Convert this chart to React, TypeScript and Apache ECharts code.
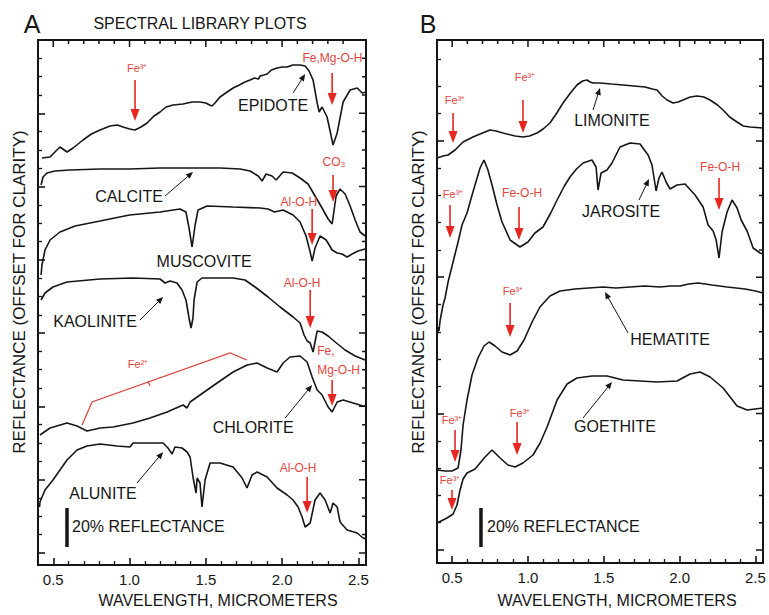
import React, { useEffect, useRef } from "react";
import * as echarts from "echarts";

type Pt = [number, number];

// x: wavelength (micrometers); y: reflectance, offset for clarity (plot units, 39 units = 20 % reflectance)
const EPIDOTE: Pt[] = [[0.426,407],[0.479,408],[0.511,413],[0.544,418],[0.59,413],[0.63,417],[0.695,425],[0.75,431],[0.807,435],[0.872,439],[0.92,440],[0.957,438],[1.0,436],[1.036,435],[1.075,438],[1.115,442],[1.16,449],[1.2,453],[1.24,458],[1.285,460],[1.35,461],[1.41,463],[1.462,463],[1.5,462],[1.525,460],[1.541,459],[1.56,462],[1.593,468],[1.64,473],[1.679,477],[1.72,480],[1.757,483],[1.79,485],[1.82,487],[1.845,486],[1.856,489],[1.88,490],[1.902,491],[1.93,495],[1.967,497],[2.0,498],[2.033,498],[2.07,500],[2.118,500],[2.151,499],[2.177,494],[2.203,485],[2.23,462],[2.243,453],[2.262,458],[2.295,448],[2.334,420],[2.361,432],[2.4,463],[2.446,475],[2.492,477],[2.525,472],[2.551,473]];
const CALCITE: Pt[] = [[0.42,380],[0.433,388],[0.459,392],[0.511,394],[0.61,395],[0.807,396],[1.0,396],[1.2,397],[1.397,397],[1.593,397],[1.725,396],[1.79,394],[1.843,389],[1.869,384],[1.895,391],[1.934,389],[1.961,385],[2.007,393],[2.066,392],[2.118,387],[2.17,381],[2.216,369],[2.262,357],[2.302,346],[2.328,341],[2.354,369],[2.38,376],[2.413,371],[2.446,359],[2.479,345],[2.511,333],[2.544,329]];
const MUSCOVITE: Pt[] = [[0.42,290],[0.426,300],[0.446,315],[0.479,325],[0.544,333],[0.643,339],[0.807,344],[1.0,350],[1.2,353],[1.331,356],[1.37,353],[1.39,337],[1.41,318],[1.43,340],[1.449,355],[1.508,359],[1.679,358],[1.856,357],[1.908,356],[1.95,353],[2.007,355],[2.072,350],[2.118,343],[2.157,329],[2.184,313],[2.197,304],[2.216,317],[2.249,329],[2.289,325],[2.328,315],[2.361,312],[2.393,311],[2.426,308],[2.459,311],[2.498,314],[2.544,316]];
const KAOLINITE: Pt[] = [[0.42,265],[0.446,272],[0.498,278],[0.59,283],[0.807,286],[1.023,287],[1.2,286],[1.233,282],[1.266,284],[1.311,282],[1.344,275],[1.37,265],[1.39,247],[1.403,237],[1.416,247],[1.423,265],[1.443,283],[1.475,287],[1.679,287],[1.757,285],[1.823,278],[1.908,268],[1.987,258],[2.072,248],[2.118,242],[2.144,230],[2.164,224],[2.184,222],[2.203,213],[2.23,234],[2.262,233],[2.302,229],[2.348,223],[2.413,215],[2.479,209],[2.544,205]];
const CHLORITE: Pt[] = [[0.413,130],[0.479,137],[0.59,142],[0.656,139],[0.721,134],[0.807,137],[0.892,138],[1.023,142],[1.134,147],[1.246,153],[1.351,160],[1.377,157],[1.397,163],[1.462,170],[1.574,182],[1.679,193],[1.771,200],[1.836,202],[1.902,197],[1.967,193],[2.007,202],[2.052,208],[2.118,209],[2.164,203],[2.197,188],[2.23,175],[2.262,170],[2.302,158],[2.328,153],[2.361,163],[2.4,165],[2.466,162],[2.531,159],[2.55,159]];
const ALUNITE: Pt[] = [[0.41,58],[0.413,63],[0.446,75],[0.498,85],[0.59,105],[0.656,115],[0.721,119],[0.807,121],[0.918,119],[1.003,118],[1.023,122],[1.134,122],[1.22,122],[1.252,117],[1.279,111],[1.298,118],[1.344,117],[1.377,113],[1.397,108],[1.416,88],[1.436,72],[1.443,87],[1.462,82],[1.475,58],[1.495,85],[1.528,102],[1.593,102],[1.679,98],[1.738,87],[1.77,77],[1.803,90],[1.836,93],[1.902,88],[1.967,77],[2.033,70],[2.072,65],[2.105,58],[2.131,48],[2.151,38],[2.184,42],[2.216,65],[2.249,72],[2.282,65],[2.315,52],[2.334,62],[2.361,58],[2.38,43],[2.426,35],[2.492,32],[2.531,27],[2.55,26]];

const LIMONITE: Pt[] = [[0.4,405],[0.44,407],[0.473,408],[0.519,413],[0.572,421],[0.637,426],[0.7,430],[0.75,433],[0.79,432],[0.835,430],[0.915,427],[0.967,426],[1.01,427],[1.06,430],[1.1,434],[1.145,440],[1.19,450],[1.231,460],[1.28,470],[1.323,478],[1.36,482],[1.389,483],[1.41,481],[1.429,480],[1.475,480],[1.55,479],[1.627,478],[1.7,477],[1.772,476],[1.82,474],[1.851,473],[1.885,467],[1.917,463],[1.957,460],[1.99,461],[2.023,463],[2.07,466],[2.115,467],[2.16,466],[2.201,463],[2.25,458],[2.287,453],[2.33,446],[2.379,441],[2.42,437],[2.465,436],[2.55,435]];
const JAROSITE: Pt[] = [[0.402,228],[0.408,236],[0.413,232],[0.42,242],[0.426,247],[0.44,258],[0.453,265],[0.473,281],[0.506,301],[0.539,321],[0.565,338],[0.598,350],[0.637,371],[0.684,395],[0.71,403],[0.736,393],[0.763,378],[0.796,358],[0.829,341],[0.882,323],[0.947,316],[1.0,321],[1.046,330],[1.099,336],[1.15,350],[1.192,363],[1.24,377],[1.277,386],[1.32,394],[1.363,400],[1.422,403],[1.449,396],[1.462,373],[1.482,390],[1.521,393],[1.554,400],[1.607,416],[1.673,420],[1.739,419],[1.792,408],[1.818,398],[1.845,372],[1.864,385],[1.884,391],[1.911,381],[1.937,374],[1.983,378],[2.036,379],[2.102,368],[2.155,356],[2.188,338],[2.221,332],[2.241,323],[2.26,305],[2.28,331],[2.313,351],[2.346,363],[2.379,355],[2.406,343],[2.445,332],[2.485,315],[2.531,310],[2.55,309]];
const HEMATITE: Pt[] = [[0.4,93],[0.453,92],[0.499,92],[0.539,95],[0.558,113],[0.572,138],[0.598,163],[0.631,188],[0.67,205],[0.71,217],[0.743,221],[0.783,217],[0.829,211],[0.882,208],[0.928,212],[0.974,223],[1.027,241],[1.079,256],[1.145,267],[1.211,272],[1.31,274],[1.4,275],[1.495,276],[1.58,275],[1.673,276],[1.77,277],[1.871,276],[1.94,277],[2.003,277],[2.06,279],[2.122,280],[2.214,278],[2.313,276],[2.432,274],[2.5,272],[2.55,270]];
const GOETHITE: Pt[] = [[0.4,40],[0.466,45],[0.506,49],[0.532,58],[0.552,73],[0.572,84],[0.598,90],[0.651,94],[0.717,106],[0.763,113],[0.816,105],[0.868,98],[0.915,96],[0.967,100],[1.033,108],[1.08,120],[1.126,136],[1.192,163],[1.258,179],[1.323,185],[1.422,187],[1.521,187],[1.627,183],[1.739,182],[1.851,181],[1.983,182],[2.069,189],[2.135,191],[2.201,186],[2.287,175],[2.379,157],[2.445,153],[2.55,155]];

const PANEL_A: Pt[][] = [EPIDOTE, CALCITE, MUSCOVITE, KAOLINITE, CHLORITE, ALUNITE];
const PANEL_B: Pt[][] = [LIMONITE, JAROSITE, HEMATITE, GOETHITE];
const NAMES_A = ["Epidote", "Calcite", "Muscovite", "Kaolinite", "Chlorite", "Alunite"];
const NAMES_B = ["Limonite", "Jarosite", "Hematite", "Goethite"];

const X_MIN = 0.4;
const X_MAX = 2.55;
const X_MINOR_STEP = 0.1;
const X_TICK_VALUES = [0.5, 1.0, 1.5, 2.0, 2.5];
const X_TICK_LABELS = ["0.5", "1.0", "1.5", "2.0", "2.5"];
// y tick scales (arbitrary offset units)
const Y_TICKS_A = { min: -0.33, max: 14, split: 7, minorSplit: 4, major: 2, minor: 0.5 };
const Y_TICKS_B = { min: -0.48, max: 18.7, split: 4, minorSplit: 5, major: 5, minor: 1 };

type Feature = { text: string; at: Pt; from: Pt; to: Pt; size?: number; left?: boolean };
type Mineral = { text: string; at: Pt; from?: Pt; to?: Pt };

const FEATURES_A: Feature[] = [
  { text: "Fe³⁺", at: [1.05, 497], from: [1.036, 485], to: [1.036, 444], size: 11 },
  { text: "Fe,Mg-O-H", at: [2.33, 507], from: [2.328, 492], to: [2.328, 460] },
  { text: "CO₃", at: [2.34, 403], from: [2.334, 390], to: [2.334, 363] },
  { text: "Al-O-H", at: [2.11, 363], from: [2.197, 356], to: [2.197, 320] },
  { text: "Al-O-H", at: [2.131, 282], from: [2.184, 275], to: [2.184, 237] },
  { text: "Fe,\nMg-O-H", at: [2.23, 205], from: [2.328, 185], to: [2.328, 159], left: true },
  { text: "Al-O-H", at: [2.105, 97], from: [2.164, 88], to: [2.164, 52] },
];
const FEATURES_B: Feature[] = [
  { text: "Fe³⁺", at: [0.519, 463], from: [0.506, 450], to: [0.506, 420], size: 11 },
  { text: "Fe³⁺", at: [0.98, 486], from: [0.967, 463], to: [0.967, 430], size: 11 },
  { text: "Fe³⁺", at: [0.506, 369], from: [0.486, 358], to: [0.486, 325], size: 11 },
  { text: "Fe-O-H", at: [0.961, 370], from: [0.941, 356], to: [0.941, 323] },
  { text: "Fe-O-H", at: [2.267, 396], from: [2.26, 385], to: [2.26, 353] },
  { text: "Fe³⁺", at: [0.901, 272], from: [0.882, 260], to: [0.882, 226], size: 11 },
  { text: "Fe³⁺", at: [0.499, 143], from: [0.519, 133], to: [0.519, 101], size: 11 },
  { text: "Fe³⁺", at: [0.948, 150], from: [0.928, 141], to: [0.928, 108], size: 11 },
  { text: "Fe³⁺", at: [0.486, 83], from: [0.499, 73], to: [0.499, 53], size: 11 },
];
const MINERALS_A: Mineral[] = [
  { text: "EPIDOTE", at: [1.941, 460], from: [2.072, 472], to: [2.151, 491] },
  { text: "CALCITE", at: [0.997, 369], from: [1.233, 369], to: [1.416, 393] },
  { text: "MUSCOVITE", at: [1.489, 304] },
  { text: "KAOLINITE", at: [0.774, 244], from: [1.069, 245], to: [1.22, 268] },
  { text: "CHLORITE", at: [1.81, 138], from: [2.02, 147], to: [2.197, 180] },
  { text: "ALUNITE", at: [0.826, 72], from: [1.049, 82], to: [1.22, 113] },
];
const MINERALS_B: Mineral[] = [
  { text: "LIMONITE", at: [1.554, 443], from: [1.429, 453], to: [1.475, 475] },
  { text: "JAROSITE", at: [1.614, 352], from: [1.732, 363], to: [1.798, 384] },
  { text: "HEMATITE", at: [1.937, 224], from: [1.66, 230], to: [1.508, 271] },
  { text: "GOETHITE", at: [1.574, 137], from: [1.363, 145], to: [1.554, 181] },
];
const FE2_BRACKET: Pt[] = [[0.689, 140], [0.754, 163], [1.659, 212], [1.77, 205]];
const FE2_TICK: Pt[] = [[1.121, 184], [1.134, 179]];
const FE2_LABEL: Pt = [1.056, 201];
const SCALE_A = { bar: [[0.59, 18], [0.59, 57]] as Pt[], label: [0.623, 39] as Pt };
const SCALE_B = { bar: [[0.69, 16], [0.69, 55]] as Pt[], label: [0.73, 37] as Pt };

const FONT = "Liberation Sans, Arial, Helvetica, sans-serif";
const INK = "#161616";
const RED_LINE = "#e6261f";
const RED_TEXT = "#e2463f";

const FRAME_A = { left: 38, top: 40, width: 328, height: 525 };
const FRAME_B = { left: 437, top: 40, width: 326, height: 523 };
const TICK_MAJOR = 7;
const TICK_MINOR = 4;

const edgeLine = { show: true, onZero: false, lineStyle: { color: INK, width: 2 } };
const majorTick = { show: true, inside: true, length: TICK_MAJOR, lineStyle: { color: INK, width: 1.6 } };
const minorTick = (n: number) => ({ show: true, splitNumber: n, length: TICK_MINOR, lineStyle: { color: INK, width: 1.3 } });

function xAxisDef(gridIndex: number, labels: boolean) {
  return {
    type: "value", gridIndex, position: "bottom", min: X_MIN, max: X_MAX, splitNumber: 4,
    axisLine: edgeLine,
    axisTick: majorTick,
    minorTick: minorTick(5),
    splitLine: { show: false },
    axisLabel: labels
      ? {
          show: true, margin: 7, color: INK, fontSize: 15, fontFamily: FONT,
          formatter: (v: number) => {
            const i = X_TICK_VALUES.findIndex((t) => Math.abs(t - v) < 1e-6);
            return i >= 0 ? X_TICK_LABELS[i] : "";
          },
        }
      : { show: false },
  };
}
function yTickAxis(gridIndex: number, t: typeof Y_TICKS_A) {
  return {
    type: "value", gridIndex, position: "left", min: t.min, max: t.max, splitNumber: t.split,
    axisLine: edgeLine,
    axisTick: majorTick,
    minorTick: minorTick(t.minorSplit),
    axisLabel: { show: false },
    splitLine: { show: false },
  };
}
const dataY = (gridIndex: number, max: number) => ({
  type: "value", gridIndex, position: "left", min: 0, max,
  axisLine: { show: false }, axisTick: { show: false }, axisLabel: { show: false }, splitLine: { show: false },
});

// top / right frame edges and their inward ticks, expressed in the panel's data units
function frameEdges(H: number): any[] {
  return [[X_MIN, H], [X_MAX, H], [X_MAX, 0]];
}
function frameTicks(H: number, widthPx: number, t: typeof Y_TICKS_A): any[] {
  const pts: any[] = [];
  const n = Math.round((X_MAX - X_MIN) / X_MINOR_STEP);
  for (let k = 1; k < n; k++) {
    const v = Math.round((X_MIN + k * X_MINOR_STEP) * 10) / 10;
    const major = X_TICK_VALUES.some((m) => Math.abs(m - v) < 1e-6);
    pts.push([v, H], [v, H - (major ? TICK_MAJOR : TICK_MINOR) * (H / H)], [v, "-"]);
  }
  const xPerPx = (X_MAX - X_MIN) / widthPx;
  const yPerUnit = H / (t.max - t.min);
  const start = Math.ceil((t.min + 1e-9) / t.minor) * t.minor;
  for (let v = start; v < t.max - 1e-9; v += t.minor) {
    const vv = Math.round(v * 1000) / 1000;
    const y = (vv - t.min) * yPerUnit;
    const major = Math.abs(vv / t.major - Math.round(vv / t.major)) < 1e-6;
    pts.push([X_MAX, y], [X_MAX - (major ? TICK_MAJOR : TICK_MINOR) * xPerPx, y], [X_MAX, "-"]);
  }
  return pts;
}

function buildOption() {
  const lineSeries = (data: Pt[], name: string, xi: number, yi: number) => ({
    type: "line", name, data, xAxisIndex: xi, yAxisIndex: yi,
    showSymbol: false, symbol: "none", silent: true,
    lineStyle: { color: INK, width: 1.6 }, z: 3,
  });
  const frameSeries = (data: any[], name: string, xi: number, yi: number, width: number) => ({
    type: "line", name, data, xAxisIndex: xi, yAxisIndex: yi,
    showSymbol: false, symbol: "none", silent: true, clip: false, connectNulls: false,
    lineStyle: { color: INK, width, cap: "butt" }, z: 20,
  });
  const g = (r: any) => ({ ...r, show: true, borderColor: INK, borderWidth: 2 });
  return {
    animation: false,
    grid: [g(FRAME_A), g(FRAME_B)],
    xAxis: [xAxisDef(0, true), xAxisDef(1, true)],
    yAxis: [
      dataY(0, FRAME_A.height), // 0
      yTickAxis(0, Y_TICKS_A), // 1
      dataY(1, FRAME_B.height), // 2
      yTickAxis(1, Y_TICKS_B), // 3
    ],
    series: [
      ...PANEL_A.map((d, i) => lineSeries(d, NAMES_A[i], 0, 0)),
      ...PANEL_B.map((d, i) => lineSeries(d, NAMES_B[i], 1, 2)),
      frameSeries(frameEdges(FRAME_A.height), "frameA", 0, 0, 2),
      frameSeries(frameTicks(FRAME_A.height, FRAME_A.width, Y_TICKS_A), "ticksA", 0, 0, 1.5),
      frameSeries(frameEdges(FRAME_B.height), "frameB", 1, 2, 2),
      frameSeries(frameTicks(FRAME_B.height, FRAME_B.width, Y_TICKS_B), "ticksB", 1, 2, 1.5),
    ],
  };
}

function text(x: number, y: number, s: string, size: number, color: string, align = "center", extra: any = {}) {
  return {
    type: "text", x, y, silent: true, z: 10, ...extra,
    style: {
      text: s, fill: color, fontSize: size, fontFamily: FONT,
      textAlign: align, align, textVerticalAlign: "middle", verticalAlign: "middle",
    },
  };
}
const seg = (x1: number, y1: number, x2: number, y2: number, stroke: string, lineWidth: number) => ({
  type: "line", silent: true, z: 10, shape: { x1, y1, x2, y2 }, style: { stroke, lineWidth },
});
function arrow(p0: number[], p1: number[], color: string, lw: number, hl: number, hw: number) {
  const dx = p1[0] - p0[0], dy = p1[1] - p0[1];
  const len = Math.hypot(dx, dy) || 1;
  const ux = dx / len, uy = dy / len;
  const bx = p1[0] - ux * hl, by = p1[1] - uy * hl;
  const nx = -uy, ny = ux;
  return [
    seg(p0[0], p0[1], bx + ux, by + uy, color, lw),
    { type: "polygon", silent: true, z: 10, shape: { points: [[p1[0], p1[1]], [bx + nx * hw, by + ny * hw], [bx - nx * hw, by - ny * hw]] }, style: { fill: color } },
  ];
}

function panelGraphics(px: (p: Pt) => number[], features: Feature[], minerals: Mineral[], scale: { bar: Pt[]; label: Pt }) {
  const out: any[] = [];
  features.forEach((f) => {
    const a = px(f.at);
    if (f.left) {
      const lines = f.text.split("\n");
      lines.forEach((ln, i) => out.push(text(a[0], a[1] + (i - (lines.length - 1) / 2) * 19, ln, 12, RED_TEXT, "left")));
    } else {
      out.push(text(a[0], a[1], f.text, f.size || 12, RED_TEXT));
    }
    out.push(...arrow(px(f.from), px(f.to), RED_LINE, 1.6, 12, 4.5));
  });
  minerals.forEach((m) => {
    const a = px(m.at);
    out.push(text(a[0], a[1], m.text, 16, INK));
    if (m.from && m.to) out.push(...arrow(px(m.from), px(m.to), INK, 1, 7, 3));
  });
  const b0 = px(scale.bar[0]), b1 = px(scale.bar[1]);
  out.push(seg(b0[0], b0[1], b1[0], b1[1], INK, 3.5));
  const l = px(scale.label);
  out.push(text(l[0], l[1], "20% REFLECTANCE", 16, INK, "left"));
  return out;
}

function buildGraphics(pa: (p: Pt) => number[], pb: (p: Pt) => number[]) {
  const g: any[] = [];
  g.push(text(32, 24, "A", 25, INK));
  g.push(text(428, 24, "B", 25, INK));
  g.push(text(200, 23, "SPECTRAL LIBRARY PLOTS", 16, INK));
  g.push(text(19, 292, "REFLECTANCE (OFFSET FOR CLARITY)", 17, INK, "center", { rotation: Math.PI / 2 }));
  g.push(text(418, 292, "REFLECTANCE (OFFSET FOR CLARITY)", 17, INK, "center", { rotation: Math.PI / 2 }));
  g.push(text(218, 600, "WAVELENGTH, MICROMETERS", 16, INK));
  g.push(text(617, 600, "WAVELENGTH, MICROMETERS", 16, INK));
  g.push(...panelGraphics(pa, FEATURES_A, MINERALS_A, SCALE_A));
  g.push(...panelGraphics(pb, FEATURES_B, MINERALS_B, SCALE_B));
  g.push({ type: "polyline", silent: true, z: 10, shape: { points: FE2_BRACKET.map((p) => pa(p)) }, style: { stroke: "#d9463f", lineWidth: 1.2, fill: "none" } });
  const t0 = pa(FE2_TICK[0]), t1 = pa(FE2_TICK[1]);
  g.push(seg(t0[0], t0[1], t1[0], t1[1], "#d9463f", 1.2));
  const fl = pa(FE2_LABEL);
  g.push(text(fl[0], fl[1], "Fe²⁺", 11, RED_TEXT));
  return g;
}

export default function App() {
  const ref = useRef<HTMLDivElement>(null);
  useEffect(() => {
    if (!ref.current) return;
    const chart = echarts.init(ref.current, undefined, { renderer: "svg" });
    chart.setOption(buildOption() as any);
    const pa = (p: Pt) => chart.convertToPixel({ seriesIndex: 0 }, p) as unknown as number[];
    const pb = (p: Pt) => chart.convertToPixel({ seriesIndex: PANEL_A.length }, p) as unknown as number[];
    chart.setOption({ graphic: buildGraphics(pa, pb) } as any);
    return () => chart.dispose();
  }, []);
  return (
    <div
      ref={ref}
      style={{ position: "fixed", left: 0, top: 0, width: 769, height: 615, background: "#fff" }}
    />
  );
}
